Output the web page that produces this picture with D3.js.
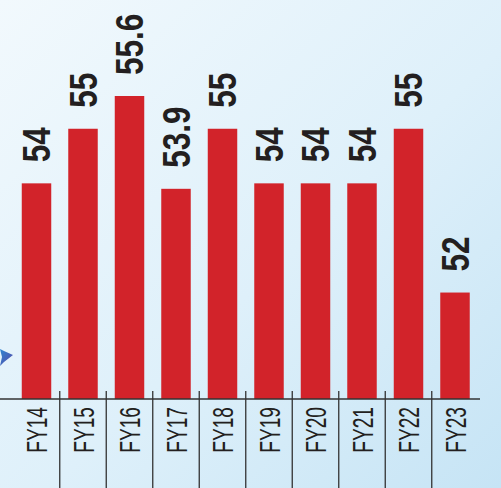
<!DOCTYPE html>
<html>
<head>
<meta charset="utf-8">
<script src="https://cdn.jsdelivr.net/npm/d3@7"></script>
<style>
  html, body { margin: 0; padding: 0; overflow: hidden; }
</style>
</head>
<body>
<svg id="chart"></svg>
<script>
const years = ['FY14', 'FY15', 'FY16', 'FY17', 'FY18', 'FY19', 'FY20', 'FY21', 'FY22', 'FY23'];
const values = [54, 55, 55.6, 53.9, 55, 54, 54, 54, 55, 52];

const w = 501;
const h = 488;
const baseY = 399;

const svg = d3.select('#chart')
  .attr('width', w)
  .attr('height', h);

// background
const defs = svg.append('defs');
const bg = defs.append('linearGradient')
  .attr('id', 'bg')
  .attr('x1', '0%').attr('y1', '0%')
  .attr('x2', '100%').attr('y2', '100%');
bg.append('stop').attr('offset', '0%').attr('stop-color', '#f2f9fd');
bg.append('stop').attr('offset', '55%').attr('stop-color', '#def0fa');
bg.append('stop').attr('offset', '100%').attr('stop-color', '#c6e4f5');

const arrowGrad = defs.append('linearGradient')
  .attr('id', 'arrow')
  .attr('x1', '0%').attr('y1', '0%')
  .attr('x2', '100%').attr('y2', '100%');
arrowGrad.append('stop').attr('offset', '0%').attr('stop-color', '#2d86d2');
arrowGrad.append('stop').attr('offset', '100%').attr('stop-color', '#5a48a6');

svg.append('rect')
  .attr('width', w)
  .attr('height', h)
  .attr('fill', 'url(#bg)');

// small arrow tip peeking in from the left
svg.append('path')
  .attr('d', 'M0,349 L4,351 L13,355 L4,362 L0,366 L2,357 Z')
  .attr('fill', 'url(#arrow)');

const xScale = d3.scaleBand()
  .domain(years)
  .range([13.25, 478.25])
  .paddingInner(0.366)
  .paddingOuter(0.183);

const yScale = d3.scaleLinear()
  .domain([50.05, 55.6])
  .range([baseY, 96]);

const gap = (xScale.step() - xScale.bandwidth()) / 2;

// bars
svg.selectAll('.bar')
  .data(values)
  .join('rect')
  .attr('class', 'bar')
  .attr('x', (d, i) => xScale(years[i]))
  .attr('y', d => yScale(d))
  .attr('width', xScale.bandwidth())
  .attr('height', d => baseY - yScale(d))
  .attr('fill', '#d2232a');

// value labels
svg.selectAll('.val')
  .data(values)
  .join('text')
  .attr('class', 'val')
  .attr('transform', (d, i) => {
    const cx = xScale(years[i]) + xScale.bandwidth() / 2 + 13.5;
    return `translate(${cx},${yScale(d) - 21}) rotate(-90) scale(0.83,1)`;
  })
  .attr('font-family', '"Liberation Sans", Arial, sans-serif')
  .attr('font-weight', 'bold')
  .attr('font-size', 38)
  .attr('fill', '#231f20')
  .text(d => String(d));

// baseline
svg.append('line')
  .attr('x1', 0).attr('x2', 480)
  .attr('y1', baseY).attr('y2', baseY)
  .attr('stroke', '#333')
  .attr('stroke-width', 1.5);

// separators between categories
svg.selectAll('.sep')
  .data(years.slice(1))
  .join('line')
  .attr('class', 'sep')
  .attr('x1', d => xScale(d) - gap)
  .attr('x2', d => xScale(d) - gap)
  .attr('y1', 391)
  .attr('y2', h)
  .attr('stroke', '#333')
  .attr('stroke-width', 1.3);

// category labels
svg.selectAll('.cat')
  .data(years)
  .join('text')
  .attr('class', 'cat')
  .attr('transform', d => {
    const cx = xScale(d) + xScale.bandwidth() / 2 + 10.5;
    return `translate(${cx},407) rotate(-90) scale(0.66,1)`;
  })
  .attr('text-anchor', 'end')
  .attr('font-family', '"Liberation Sans", Arial, sans-serif')
  .attr('font-size', 29)
  .attr('fill', '#231f20')
  .text(d => d);
</script>
</body>
</html>
